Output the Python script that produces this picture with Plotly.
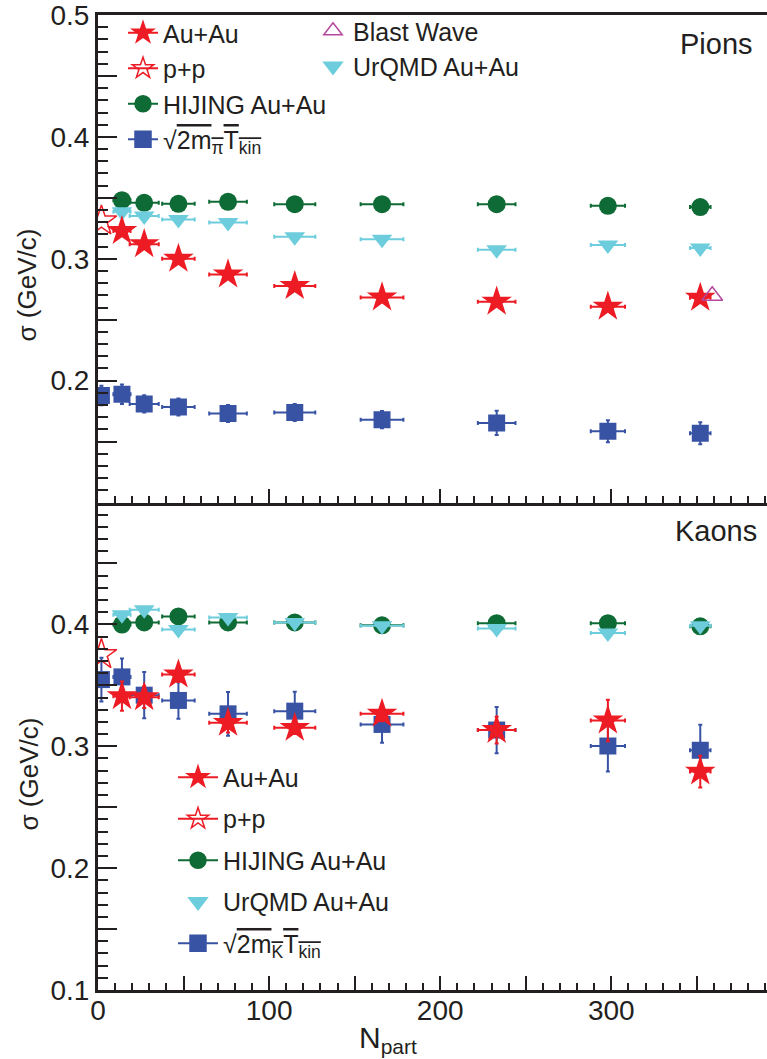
import plotly.graph_objects as go
from plotly.subplots import make_subplots

# ---------------- data ----------------
npart = [14, 27, 47, 76, 115, 166, 233, 298, 352]
npart_err = [5, 8.5, 9.5, 11, 12, 12.5, 11, 10, 6]
npart_pp = [2]
npart_bw = [359]

# Pions
pi_auau = [0.3227, 0.3120, 0.3000, 0.2871, 0.2776, 0.2683, 0.2648, 0.2607, 0.2680]
pi_auau_err = [0.003, 0.003, 0.003, 0.003, 0.003, 0.003, 0.003, 0.003, 0.003]
pi_pp = [0.3310]
pi_hijing = [0.3481, 0.3459, 0.3451, 0.3467, 0.3448, 0.3448, 0.3448, 0.3434, 0.3424]
pi_urqmd = [0.3385, 0.3350, 0.3322, 0.3298, 0.3180, 0.3161, 0.3074, 0.3112, 0.3088]
pi_bw = [0.2697]
sqrt_x = [2, 14, 27, 47, 76, 115, 166, 233, 298, 352]
sqrt_xerr = [0, 5, 8.5, 9.5, 11, 12, 12.5, 11, 10, 6]
pi_sqrt = [0.1877, 0.1888, 0.1809, 0.1784, 0.1730, 0.1738, 0.1680, 0.1653, 0.1584, 0.1568]
pi_sqrt_err = [0.008, 0.008, 0.007, 0.007, 0.007, 0.007, 0.007, 0.010, 0.009, 0.009]

# Kaons
k_auau = [0.3411, 0.3403, 0.3588, 0.3192, 0.3151, 0.3266, 0.3133, 0.3212, 0.2792]
k_auau_err = [0.012, 0.009, 0.006, 0.008, 0.005, 0.006, 0.011, 0.017, 0.013]
k_pp = [0.3752]
k_hijing = [0.3998, 0.4016, 0.4065, 0.4016, 0.4016, 0.3992, 0.4010, 0.4010, 0.3984]
k_urqmd = [0.4079, 0.4120, 0.3957, 0.4057, 0.4016, 0.3989, 0.3967, 0.3929, 0.3989]
k_sqrt = [0.3547, 0.3569, 0.3419, 0.3376, 0.3266, 0.3288, 0.3179, 0.3133, 0.3002, 0.2967]
k_sqrt_err = [0.018, 0.015, 0.019, 0.015, 0.018, 0.016, 0.015, 0.019, 0.021, 0.021]

# ---------------- style ----------------
RED = "#ed1c24"
GREEN = "#0f6b35"
CYAN = "#6dcddc"
BLUE = "#3953a4"
MAG = "#b5479c"
AX = "#231f20"
FONT = "Liberation Sans, Arial, Helvetica, sans-serif"

fig = make_subplots(rows=2, cols=1, vertical_spacing=0)


def ex(arr, color):
    return dict(type="data", array=arr, color=color, thickness=2, width=2)


def add_panel(row, sqrt_y, sqrt_err, hij, urq, auau, auau_err, pp):
    fig.add_trace(go.Scatter(x=sqrt_x, y=sqrt_y, mode="markers",
                             marker=dict(symbol="square", size=17, color=BLUE),
                             error_x=ex(sqrt_xerr, BLUE), error_y=ex(sqrt_err, BLUE),
                             showlegend=False), row=row, col=1)
    fig.add_trace(go.Scatter(x=npart, y=hij, mode="markers",
                             marker=dict(symbol="circle", size=18, color=GREEN),
                             error_x=ex(npart_err, GREEN),
                             showlegend=False), row=row, col=1)
    fig.add_trace(go.Scatter(x=npart, y=urq, mode="markers",
                             marker=dict(symbol="triangle-down", size=18, color=CYAN),
                             error_x=ex(npart_err, CYAN),
                             showlegend=False), row=row, col=1)
    fig.add_trace(go.Scatter(x=npart, y=auau, mode="markers",
                             marker=dict(symbol="star", size=23, color=RED),
                             error_x=ex(npart_err, RED), error_y=ex(auau_err, RED),
                             showlegend=False), row=row, col=1)
    fig.add_trace(go.Scatter(x=npart_pp, y=pp, mode="markers",
                             marker=dict(symbol="star-open", size=23, color=RED,
                                         line=dict(width=1.5, color=RED)),
                             showlegend=False), row=row, col=1)


add_panel(1, pi_sqrt, pi_sqrt_err, pi_hijing, pi_urqmd, pi_auau, pi_auau_err, pi_pp)
fig.add_trace(go.Scatter(x=npart_bw, y=pi_bw, mode="markers",
                         marker=dict(symbol="triangle-up-open", size=18, color=MAG,
                                     line=dict(width=1.5, color=MAG)),
                         showlegend=False), row=1, col=1)
add_panel(2, k_sqrt, k_sqrt_err, k_hijing, k_urqmd, k_auau, k_auau_err, k_pp)


# ---------------- legends (legend-only entries) ----------------
def leg(name, symbol, color, legend, group, line=True, size=16):
    fig.add_trace(go.Scatter(
        x=[None], y=[None], name=name,
        mode="lines+markers" if line else "markers",
        marker=dict(symbol=symbol, size=size, color=color,
                    line=dict(width=1.5, color=color)),
        line=dict(color=color, width=2),
        legend=legend, legendgroup=group, showlegend=True))


sq_pi = "√<span style='text-decoration:overline'>2m<sub>π</sub>T<sub>kin</sub></span>"
sq_k = "√<span style='text-decoration:overline'>2m<sub>K</sub>T<sub>kin</sub></span>"

leg("Au+Au", "star", RED, "legend", "a1")
leg("p+p", "star-open", RED, "legend", "a2")
leg("HIJING Au+Au", "circle", GREEN, "legend", "a3")
leg(sq_pi, "square", BLUE, "legend", "a4")
leg("Blast Wave", "triangle-up-open", MAG, "legend2", "b1", line=False)
leg("UrQMD Au+Au", "triangle-down", CYAN, "legend2", "b2", line=False)
leg("Au+Au", "star", RED, "legend3", "c1")
leg("p+p", "star-open", RED, "legend3", "c2")
leg("HIJING Au+Au", "circle", GREEN, "legend3", "c3")
leg("UrQMD Au+Au", "triangle-down", CYAN, "legend3", "c4", line=False)
leg(sq_k, "square", BLUE, "legend3", "c5")

W, H = 767, 1059
L, R, T, B = 98, 0, 13, 69
pw, ph = W - L - R, H - T - B


def px(x):
    return (x - L) / pw


def py(y):
    return (H - B - y) / ph


legfont = dict(family=FONT, size=25, color=AX)
common_leg = dict(bgcolor="rgba(0,0,0,0)", borderwidth=0, font=legfont,
                  traceorder="grouped", xanchor="left", yanchor="top",
                  itemsizing="trace")

# ---------------- axes ----------------
yvals = [round(0.1 + 0.05 * i, 2) for i in range(9)]
ytext_top = ["" if (v == 0.1 or abs(v * 10 - round(v * 10)) > 1e-6) else f"{v:.1f}" for v in yvals]
ytext_bot = ["" if (v == 0.5 or abs(v * 10 - round(v * 10)) > 1e-6) else f"{v:.1f}" for v in yvals]
xvals = list(range(0, 400, 50))
xtext = [str(v) if v % 100 == 0 else "" for v in xvals]

yax = dict(range=[0.1, 0.5], showline=True, linewidth=3, linecolor=AX,
           ticks="inside", ticklen=19, tickwidth=2, tickcolor=AX,
           tickmode="array", tickvals=yvals, showgrid=False, zeroline=False,
           ticklabeloverflow="allow",
           tickfont=dict(family=FONT, size=28, color=AX),
           minor=dict(ticks="inside", ticklen=10, tickwidth=2, tickcolor=AX,
                      tickmode="linear", tick0=0.1, dtick=0.01, showgrid=False))
xax = dict(range=[0, 391], showline=True, linewidth=3, linecolor=AX,
           ticks="inside", ticklen=14, tickwidth=2, tickcolor=AX,
           tickmode="array", tickvals=xvals, ticktext=xtext, showgrid=False,
           zeroline=False, tickfont=dict(family=FONT, size=28, color=AX),
           ticklabeloverflow="allow", ticklabelstandoff=-7,
           minor=dict(ticks="inside", ticklen=7, tickwidth=2, tickcolor=AX,
                      tickmode="linear", tick0=0, dtick=10, showgrid=False))

fig.update_yaxes(**yax)
fig.update_yaxes(ticktext=ytext_top, row=1, col=1)
fig.update_yaxes(ticktext=ytext_bot, row=2, col=1)
fig.update_xaxes(**xax)
fig.update_xaxes(showticklabels=False, mirror=True, row=1, col=1)


def ann(text, x, y, size, angle=0):
    return dict(text=text, x=px(x), y=py(y), xref="paper", yref="paper",
                xanchor="center", yanchor="middle", showarrow=False,
                textangle=angle, font=dict(family=FONT, size=size, color=AX))


fig.update_layout(
    width=W, height=H,
    margin=dict(l=L, r=R, t=T, b=B),
    paper_bgcolor="white", plot_bgcolor="white",
    font=dict(family=FONT, color=AX),
    legend=dict(x=px(123), y=py(8), tracegroupgap=0, **common_leg),
    legend2=dict(x=px(313), y=py(6), tracegroupgap=0, **common_leg),
    legend3=dict(x=px(173), y=py(754), tracegroupgap=6, itemwidth=40,
                 **common_leg),
    annotations=[
        ann("Pions", 716, 42, 29),
        ann("Kaons", 716, 530, 29),
        ann("σ (GeV/c)", 27, 284, 26, -90),
        ann("σ (GeV/c)", 29, 774, 26, -90),
        ann("N<sub>part</sub>", 388, 1040, 30),
    ],
)

fig.write_html("out.html", config={"displayModeBar": False},
               post_script="document.body.style.margin='0';")
